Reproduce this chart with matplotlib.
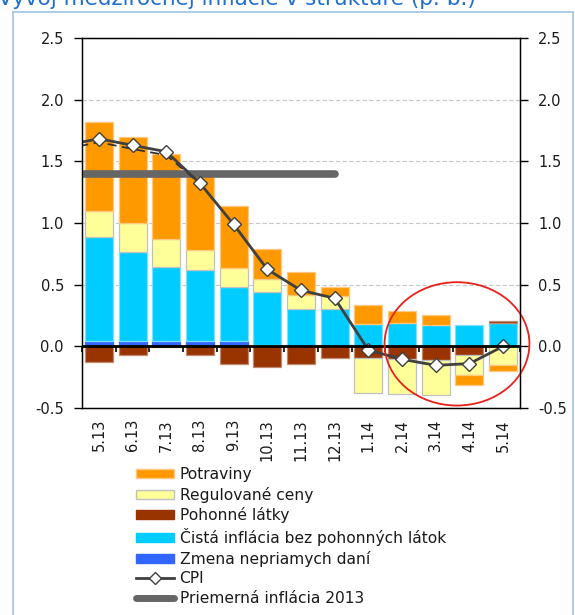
import numpy as np
import matplotlib
matplotlib.use("Agg")
import matplotlib.pyplot as plt
from matplotlib.patches import Patch, Ellipse, Rectangle
from matplotlib.lines import Line2D

months = ["5.13", "6.13", "7.13", "8.13", "9.13", "10.13", "11.13",
          "12.13", "1.14", "2.14", "3.14", "4.14", "5.14"]

# zlozky (p. b.), poradie stohovania od nuly
dane = [0.045, 0.045, 0.045, 0.045, 0.045, 0.012, 0, 0, 0, 0, 0, 0, 0]
cista = [0.84, 0.72, 0.60, 0.575, 0.44, 0.425, 0.305, 0.305, 0.184, 0.192, 0.17, 0.17, 0.192]
pohonne = [-0.13, -0.073, -0.008, -0.07, -0.146, -0.167, -0.14, -0.095, -0.095, -0.10, -0.113, -0.073, 0.013]
regulovane = [0.21, 0.235, 0.225, 0.165, 0.15, 0.105, 0.108, 0.10, -0.283, -0.283, -0.284, -0.162, -0.15]
potraviny = [0.72, 0.70, 0.69, 0.595, 0.50, 0.25, 0.19, 0.075, 0.155, 0.094, 0.087, -0.075, -0.05]

# ciary zacinaju uz v 4.13 (mimo grafu)
line_months = ["4.13"] + months
cpi = [1.63, 1.683, 1.63, 1.578, 1.323, 0.989, 0.624, 0.454, 0.39,
       -0.03, -0.105, -0.154, -0.14, 0.0]
cpi_dash = [1.60, 1.655, 1.60, 1.55, 1.32]
priemer = [1.4] * 9  # 4.13 .. 12.13

series = [
    ("Zmena nepriamych daní", dane, "#3366FF", "#3366FF"),
    ("Čistá inflácia bez pohonných látok", cista, "#00CCFF", "#7FE0FF"),
    ("Pohonné látky", pohonne, "#993300", "#C08A70"),
    ("Regulované ceny", regulovane, "#FFFF99", "#C0C0C0"),
    ("Potraviny", potraviny, "#FF9900", "#FFC880"),
]

plt.rcParams['font.family'] = ['DejaVu Sans']
txt = "#1a1a1a"

fig = plt.figure(figsize=(5.75, 6.15), dpi=100)
ax = fig.add_axes([82 / 575, 1 - 408 / 615, (520 - 82) / 575, (408 - 38) / 615])

x = np.arange(len(months))
pos = np.zeros(len(months))
neg = np.zeros(len(months))
for name, vals, fc, ec in series:
    v = np.array(vals, dtype=float)
    base = np.where(v >= 0, pos, neg)
    ax.bar(x, v, 0.83, bottom=base, color=fc, edgecolor=ec, linewidth=0.9, zorder=2)
    pos = pos + np.where(v >= 0, v, 0)
    neg = neg + np.where(v < 0, v, 0)

xl = np.arange(-1, len(months))
ax.plot(xl[:len(priemer)], priemer, color="#666666", lw=5.5, solid_capstyle="round", zorder=3)
ax.plot(xl[:len(cpi_dash)], cpi_dash, color="#333333", lw=1.3, ls=(0, (5, 3)), zorder=3)
ax.plot(xl, cpi, color="#404040", lw=2, marker="D", ms=7, mfc="white",
        mec="#404040", mew=1, zorder=4)

ax.axhline(0, color="black", lw=2, zorder=5)

ax.set_xlim(-0.5, len(months) - 0.5)
ax.set_ylim(-0.5, 2.5)
ax.set_yticks(np.arange(-0.5, 2.51, 0.5))
ax.set_yticklabels(["%.1f" % t for t in np.arange(-0.5, 2.51, 0.5)])
ax.yaxis.grid(True, color="#C8C8C8", lw=0.8, ls=(0, (4, 2)))
ax.set_axisbelow(True)
ax.set_xticks(x)
ax.set_xticklabels(months, rotation=90, fontsize=10.5, color=txt)
ax.tick_params(axis="x", length=0, pad=8)
ax.tick_params(axis="y", direction="out", length=6, width=1, pad=7,
               labelsize=10.5, labelcolor=txt)
for s in ax.spines.values():
    s.set_color("black")
    s.set_linewidth(1)

ax2 = ax.twinx()
ax2.set_ylim(ax.get_ylim())
ax2.set_yticks(ax.get_yticks())
ax2.set_yticklabels(["%.1f" % t for t in np.arange(-0.5, 2.51, 0.5)])
ax2.tick_params(axis="y", direction="out", length=6, width=1, pad=7,
                labelsize=10.5, labelcolor=txt)

# male ciarky na nulovej osi medzi stlpcami
sec = ax.secondary_xaxis(0.5 / 3)
sec.set_xticks(np.arange(-0.5, len(months), 1))
sec.tick_params(length=4, width=1.2, direction="out", labelbottom=False)
sec.spines["bottom"].set_visible(False)

ax.add_patch(Ellipse((10.63, 0.02), 4.3, 1.0, fill=False, ec="#E8201A",
                     lw=1.3, clip_on=False, zorder=6))

handles = [
    Patch(fc="#FF9900", ec="#FFC880", label="Potraviny"),
    Patch(fc="#FFFF99", ec="#C0C0C0", label="Regulované ceny"),
    Patch(fc="#993300", ec="#993300", label="Pohonné látky"),
    Patch(fc="#00CCFF", ec="#00CCFF", label="Čistá inflácia bez pohonných látok"),
    Patch(fc="#3366FF", ec="#3366FF", label="Zmena nepriamych daní"),
    Line2D([], [], color="#404040", lw=2, marker="D", ms=6, mfc="white",
           mec="#404040", label="CPI"),
    Line2D([], [], color="#666666", lw=5, solid_capstyle="round",
           label="Priemerná inflácia 2013"),
]
fig.legend(handles=handles, loc="upper left", bbox_to_anchor=(136 / 575, 1 - 467 / 615),
           frameon=False, fontsize=11.2, handlelength=2.45, handleheight=0.5,
           handletextpad=0.35, labelspacing=0.3, borderpad=0, borderaxespad=0,
           labelcolor=txt)

fig.patches.append(Rectangle((13 / 575, -0.1), (573 - 13) / 575, 1.1 - 12 / 615,
                             transform=fig.transFigure, fill=False,
                             ec="#9DC3E6", lw=1.2))
fig.text(-0.003, 1 - 5 / 615, "Vývoj medziročnej inflácie v štruktúre (p. b.)",
         color="#1F6FD0", fontsize=15.5, ha="left", va="baseline")

fig.savefig("out.png", dpi=100)
